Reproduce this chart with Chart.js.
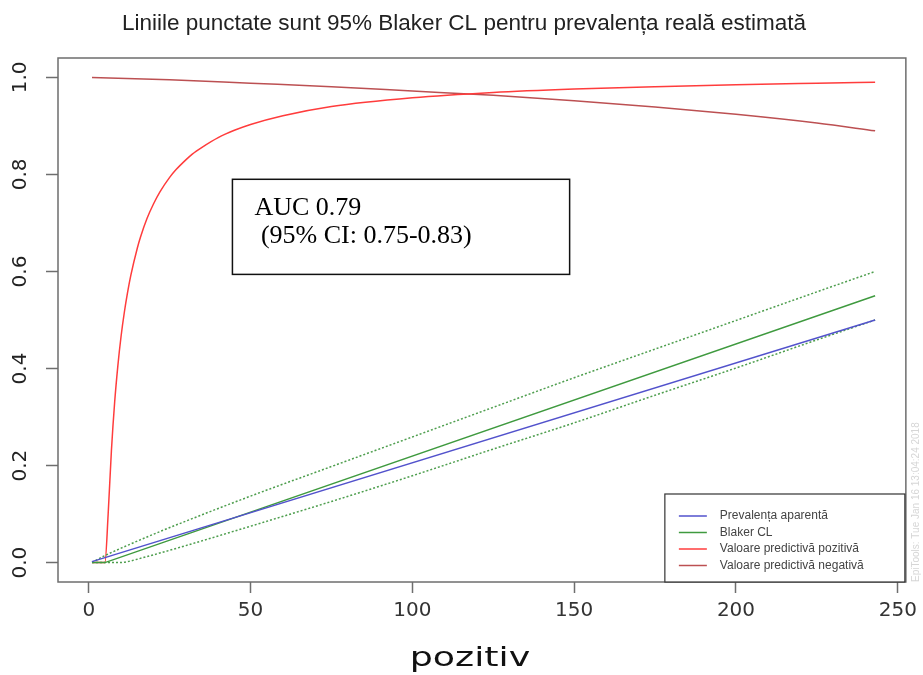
<!DOCTYPE html>
<html>
<head>
<meta charset="utf-8">
<script src="https://cdn.jsdelivr.net/npm/chart.js@4.4.1/dist/chart.umd.min.js"></script>
<style>
  body { margin: 0; background: #fff; }
  #wrap { width: 923px; height: 675px; }
</style>
</head>
<body>
<div id="wrap"><canvas id="c" width="923" height="675"></canvas></div>
<script>
// values
const apparentX = [1, 243];
const apparentY = [0.002, 0.5];

const trueX = [1, 5, 243];
const trueY = [0, 0, 0.55];

const upperX = [1, 5, 10, 20, 30, 50, 75, 100, 125, 150, 175, 200, 225, 243];
const upperY = [0.0003, 0.0144, 0.0297, 0.0584, 0.0854, 0.137, 0.198, 0.259, 0.320, 0.381, 0.440, 0.499, 0.558, 0.600];

const lowerX = [1, 10, 12, 15, 20, 30, 50, 75, 100, 125, 150, 175, 200, 225, 243];
const lowerY = [0, 0, 0.002, 0.007, 0.016, 0.035, 0.075, 0.126, 0.179, 0.234, 0.288, 0.345, 0.401, 0.459, 0.500];

const ppvX = [1, 5, 6, 7, 8, 9, 10, 11, 12, 13, 15, 16, 18, 20, 22, 25, 27, 30, 32, 35, 40, 45, 50, 60, 75, 100, 125, 150, 175, 200, 225, 243];
const ppvY = [0, 0, 0.10, 0.23, 0.33, 0.406, 0.467, 0.516, 0.557, 0.592, 0.648, 0.671, 0.709, 0.739, 0.764, 0.794, 0.810, 0.830, 0.842, 0.856, 0.876, 0.891, 0.903, 0.921, 0.940, 0.958, 0.969, 0.976, 0.981, 0.985, 0.988, 0.990];

const npvX = [1, 25, 50, 75, 100, 125, 150, 175, 200, 225, 243];
const npvY = [1.0, 0.995, 0.988, 0.981, 0.972, 0.963, 0.952, 0.939, 0.924, 0.906, 0.890];

const xTicks = [0, 50, 100, 150, 200, 250];
const yTicks = [0.0, 0.2, 0.4, 0.6, 0.8, 1.0];

const legendLabels = ["Prevalența aparentă", "Blaker CL", "Valoare predictivă pozitivă", "Valoare predictivă negativă"];
const aucLines = ["AUC 0.79", " (95% CI: 0.75-0.83)"];

function pts(xs, ys) {
    return xs.map((x, i) => ({ x: x, y: ys[i] }));
}

const axisGray = "#6e6e6e";

// box round the plot, like R's box()
const boxPlugin = {
    id: "box",
    beforeDatasetsDraw(chart) {
        const a = chart.chartArea, ctx = chart.ctx;
        ctx.save();
        ctx.strokeStyle = axisGray;
        ctx.lineWidth = 1.5;
        ctx.strokeRect(a.left, a.top, a.right - a.left, a.bottom - a.top);
        ctx.restore();
    }
};

// rotated y labels, x title, AUC box, legend, stamp
const extrasPlugin = {
    id: "extras",
    afterDraw(chart) {
        const ctx = chart.ctx, a = chart.chartArea;
        const xs = chart.scales.x, ys = chart.scales.y;
        ctx.save();

        // y tick labels, reading upwards
        ctx.fillStyle = "#222";
        ctx.font = "20px 'DejaVu Sans'";
        ctx.textAlign = "center";
        ctx.textBaseline = "middle";
        yTicks.forEach((v) => {
            ctx.save();
            ctx.translate(21, ys.getPixelForValue(v));
            ctx.rotate(-Math.PI / 2);
            ctx.fillText(v.toFixed(1), 0, 0);
            ctx.restore();
        });

        // x axis title, stretched wide like the original
        ctx.save();
        ctx.translate(470, 666);
        ctx.scale(1.4, 1);
        ctx.fillStyle = "#111";
        ctx.font = "26px 'DejaVu Sans'";
        ctx.textAlign = "center";
        ctx.textBaseline = "alphabetic";
        ctx.fillText("pozitiv", 0, 0);
        ctx.restore();

        // AUC text box
        const bx1 = xs.getPixelForValue(44.4), bx2 = xs.getPixelForValue(148.6);
        const by1 = ys.getPixelForValue(0.79), by2 = ys.getPixelForValue(0.594);
        ctx.fillStyle = "#fff";
        ctx.fillRect(bx1, by1, bx2 - bx1, by2 - by1);
        ctx.strokeStyle = "#111";
        ctx.lineWidth = 1.5;
        ctx.strokeRect(bx1, by1, bx2 - bx1, by2 - by1);
        ctx.fillStyle = "#000";
        ctx.font = "26px 'Liberation Serif'";
        ctx.textAlign = "left";
        ctx.textBaseline = "middle";
        ctx.fillText(aucLines[0], bx1 + 22, by1 + 29);
        ctx.fillText(aucLines[1], bx1 + 22, by1 + 57);

        // legend
        const lw = 240, lh = 88;
        const lx = a.right - lw - 1, ly = a.bottom - lh;
        ctx.fillStyle = "#fff";
        ctx.fillRect(lx, ly, lw, lh);
        ctx.strokeStyle = "#333";
        ctx.lineWidth = 1.2;
        ctx.strokeRect(lx, ly, lw, lh);
        const legendColors = [chart.data.datasets[0].borderColor, chart.data.datasets[1].borderColor,
                              chart.data.datasets[4].borderColor, chart.data.datasets[5].borderColor];
        ctx.font = "12px 'Liberation Sans'";
        ctx.textBaseline = "middle";
        legendLabels.forEach((lab, i) => {
            const yy = ly + 22 + i * 16.5;
            ctx.strokeStyle = legendColors[i];
            ctx.lineWidth = 1.5;
            ctx.beginPath();
            ctx.moveTo(lx + 14, yy);
            ctx.lineTo(lx + 42, yy);
            ctx.stroke();
            ctx.fillStyle = "#444";
            ctx.fillText(lab, lx + 55, yy);
        });

        // EpiTools stamp
        ctx.save();
        ctx.translate(916, 582);
        ctx.rotate(-Math.PI / 2);
        ctx.fillStyle = "#d6d6d6";
        ctx.font = "10px 'Liberation Sans'";
        ctx.textAlign = "left";
        ctx.fillText("EpiTools: Tue Jan 16 13:04:24 2018", 0, 0);
        ctx.restore();

        ctx.restore();
    }
};

new Chart(document.getElementById("c"), {
    type: "line",
    data: {
        datasets: [
            { label: "apparent", data: pts(apparentX, apparentY), borderColor: "#5252cc", borderWidth: 1.5 },
            { label: "true", data: pts(trueX, trueY), borderColor: "#3f9a3f", borderWidth: 1.5 },
            { label: "upper", data: pts(upperX, upperY), borderColor: "#4e9e4e", borderWidth: 1.5, borderDash: [2, 2], cubicInterpolationMode: "monotone" },
            { label: "lower", data: pts(lowerX, lowerY), borderColor: "#4e9e4e", borderWidth: 1.5, borderDash: [2, 2], cubicInterpolationMode: "monotone" },
            { label: "ppv", data: pts(ppvX, ppvY), borderColor: "#ff3c3c", borderWidth: 1.5, cubicInterpolationMode: "monotone" },
            { label: "npv", data: pts(npvX, npvY), borderColor: "#bc5052", borderWidth: 1.5, cubicInterpolationMode: "monotone" },
        ],
    },
    options: {
        responsive: false,
        animation: false,
        layout: { padding: { left: 20, right: 15, top: 0, bottom: 0 } },
        elements: { point: { radius: 0 } },
        plugins: {
            legend: { display: false },
            tooltip: { enabled: false },
            title: {
                display: true,
                text: "Liniile punctate sunt 95% Blaker CL pentru prevalența reală estimată",
                color: "#222",
                font: { family: "'Liberation Sans'", size: 22.5, weight: "normal", lineHeight: 1.2 },
                padding: { top: 10, bottom: 21 },
            },
        },
        scales: {
            x: {
                type: "linear",
                min: -9.5,
                max: 252.5,
                afterFit: (s) => { s.height = 93; },
                afterBuildTicks: (s) => { s.ticks = xTicks.map((v) => ({ value: v })); },
                grid: { drawOnChartArea: false, tickLength: 11, tickColor: axisGray, tickWidth: 1.5 },
                border: { display: false },
                ticks: { color: "#333", padding: 6, maxRotation: 0, font: { family: "'DejaVu Sans'", size: 20 } },
            },
            y: {
                min: -0.04,
                max: 1.04,
                afterFit: (s) => { s.width = 38; },
                afterBuildTicks: (s) => { s.ticks = yTicks.map((v) => ({ value: v })); },
                grid: { drawOnChartArea: false, tickLength: 12, tickColor: axisGray, tickWidth: 1.5 },
                border: { display: false },
                ticks: { display: false },
            },
        },
    },
    plugins: [boxPlugin, extrasPlugin],
});
</script>
</body>
</html>
